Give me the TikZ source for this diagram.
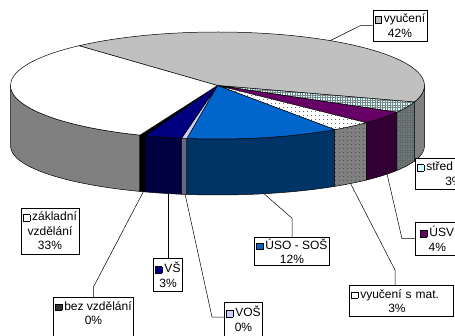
\documentclass[tikz,border=0pt]{standalone}
\usepackage{fontspec}
\setmainfont{Liberation Sans}
\usetikzlibrary{patterns.meta}

\definecolor{vyucC}{RGB}{192,192,192}
\definecolor{sideC}{RGB}{128,128,128}
\definecolor{navyTop}{RGB}{0,0,128}
\definecolor{navySide}{RGB}{0,0,64}
\definecolor{vosTop}{RGB}{204,204,255}
\definecolor{vosSide}{RGB}{102,102,128}
\definecolor{usoTop}{RGB}{0,102,204}
\definecolor{usoSide}{RGB}{0,51,102}
\definecolor{usvTop}{RGB}{102,0,102}
\definecolor{usvSide}{RGB}{51,0,51}
\definecolor{stredTop}{RGB}{204,255,255}
\definecolor{stredSide}{RGB}{102,128,128}

\newcommand{\swatch}[1]{{\setlength{\fboxsep}{0pt}\setlength{\fboxrule}{0.5pt}\fcolorbox{black}{#1}{\rule{0pt}{6pt}\rule{6pt}{0pt}}}\hspace{2pt}}

\begin{document}
\begin{tikzpicture}[x=1pt, y=1pt, line width=0.5pt,
  lbl/.style={draw, fill=white, align=center, inner xsep=2pt, inner ysep=4pt, font=\fontsize{12}{14.5}\selectfont},
  vyuc-top/.style={draw, fill=vyucC},     vyuc-side/.style={draw, fill=sideC},
  stred-top/.style={draw, preaction={fill=stredTop}, pattern={Hatch[angle=0, distance=2.5pt, line width=0.3pt]}, pattern color=sideC},
  stred-side/.style={draw, preaction={fill=stredSide}, pattern={Hatch[angle=0, distance=2.5pt, line width=0.3pt]}, pattern color=black!60},
  usv-top/.style={draw, fill=usvTop},     usv-side/.style={draw, fill=usvSide},
  vsmat-top/.style={draw, preaction={fill=white}, pattern={Dots[distance=4pt, radius=0.5pt]}, pattern color=black},
  vsmat-side/.style={draw, preaction={fill=sideC}, pattern={Dots[distance=4pt, radius=0.5pt]}, pattern color=black!80},
  uso-top/.style={draw, fill=usoTop},     uso-side/.style={draw, fill=usoSide},
  vos-top/.style={draw, fill=vosTop},     vos-side/.style={draw, fill=vosSide},
  vs-top/.style={draw, fill=navyTop},     vs-side/.style={draw, fill=navySide},
  bez-top/.style={draw, fill=black},      bez-side/.style={draw, fill=black},
  zakl-top/.style={draw, fill=white},     zakl-side/.style={draw, fill=sideC}]
\useasboundingbox (0,0) rectangle (455,335);
\clip (0,0) rectangle (455,335);

% sides of the pie
\foreach \a/\b/\sl in {-180/-112/zakl, -112/-110.5/bez, -110.5/-100/vs, -100/-98.5/vos,
    -98.5/-55.5/uso, -55.5/-44/vsmat, -44/-30/usv, -30/-18/stred, -18/0/vyuc}
  \path[\sl-side] ({217.5+207*cos(\a)},{249.5+53.5*sin(\a)})
    arc[start angle=\a, end angle=\b, x radius=207, y radius=53.5]
    -- ({217.5+207*cos(\b)},{189+49*sin(\b)})
    arc[start angle=\b, end angle=\a, x radius=207, y radius=49] -- cycle;

% top of the pie
\foreach \a/\b/\sl in {132/-18/vyuc, -18/-30/stred, -30/-44/usv, -44/-55.5/vsmat,
    -55.5/-98.5/uso, -98.5/-100/vos, -100/-110.5/vs, -110.5/-112/bez, -112/-228/zakl}
  \path[\sl-top] (217.5,249.5) -- ({217.5+207*cos(\a)},{249.5+53.5*sin(\a)})
    arc[start angle=\a, end angle=\b, x radius=207, y radius=53.5] -- cycle;

% leader ends
\coordinate (pVyuc)  at ({217.5+207*cos(57)},{249.5+53.5*sin(57)});
\coordinate (pUSV)   at ({217.5+207*cos(-35)},{189+49*sin(-35)});
\coordinate (pVsmat) at ({217.5+207*cos(-50)},{189+49*sin(-50)});
\coordinate (pUSO)   at ({217.5+207*cos(-77)},{189+49*sin(-77)});
\coordinate (pVOS)   at ({217.5+207*cos(-99)},{189+49*sin(-99)});
\coordinate (pVS)    at ({217.5+207*cos(-103)},{189+49*sin(-103)});
\coordinate (pBez)   at ({217.5+207*cos(-111)},{189+49*sin(-111)});

% labels
\node[lbl] (vyuc) at (400,309.5) {\swatch{vyucC}vyučení\\42\%};
\node[lbl, anchor=north west, text width=73pt, align=left] (stred) at (415,177) {\swatch{stredTop}střed\\\hspace*{28pt}3\%};
\node[lbl, anchor=north west, text width=40pt] (usv) at (415,113) {\swatch{usvTop}ÚSV\\4\%};
\node[lbl] (zakl) at (50,104) {\swatch{white}základní\\vzdělání\\33\%};
\node[lbl, inner ysep=1.5pt] (uso) at (292,83.5) {\swatch{usoTop}ÚSO - SOŠ\\12\%};
\node[lbl] (vs) at (168,60) {\swatch{navyTop}VŠ\\3\%};
\node[lbl, anchor=north west, text width=100pt, align=left] (vsmat) at (349,50) {\swatch{white}vyučení s mat.\\\hspace*{37pt}3\%};
\node[lbl, anchor=north west] (vos) at (224,33) {\swatch{vosTop}VOŠ\\0\%\rule[-12pt]{0pt}{0pt}};
\node[lbl, anchor=north west] (bez) at (53,38) {\swatch{black!80}bez vzdělání\\0\%\rule[-12pt]{0pt}{0pt}};

\draw (vyuc.west) -- ++(-12,0) -- (pVyuc);
\draw (usv.west) -- ++(-13,0) -- (pUSV);
\draw ([xshift=46pt]vsmat.north west) -- ++(0,15) -- (pVsmat);
\draw (uso.north) -- ++(0,19) -- (pUSO);
\draw ([yshift=-15pt]vos.north west) -- ++(-12,0) -- (pVOS);
\draw (vs.north) -- (vs.north |- pVS);
\draw (bez.north) -- ++(0,10) -- (pBez);
\end{tikzpicture}
\end{document}
